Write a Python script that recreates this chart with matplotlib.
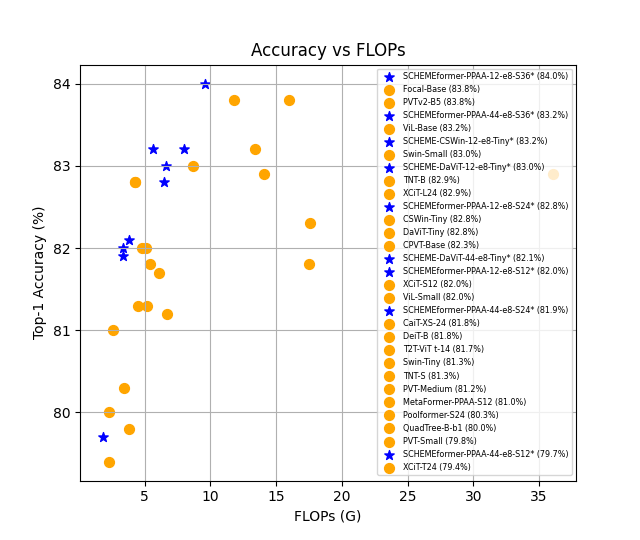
import matplotlib
matplotlib.use("Agg")
import matplotlib.pyplot as plt

# models sorted by accuracy, as in the legend
names = ["SCHEMEformer-PPAA-12-e8-S36*", "Focal-Base", "PVTv2-B5", "SCHEMEformer-PPAA-44-e8-S36*",
         "ViL-Base", "SCHEME-CSWin-12-e8-Tiny*", "Swin-Small", "SCHEME-DaViT-12-e8-Tiny*",
         "TNT-B", "XCiT-L24", "SCHEMEformer-PPAA-12-e8-S24*", "CSWin-Tiny", "DaViT-Tiny",
         "CPVT-Base", "SCHEME-DaViT-44-e8-Tiny*", "SCHEMEformer-PPAA-12-e8-S12*", "XCiT-S12",
         "ViL-Small", "SCHEMEformer-PPAA-44-e8-S24*", "CaiT-XS-24", "DeiT-B", "T2T-ViT t-14",
         "Swin-Tiny", "TNT-S", "PVT-Medium", "MetaFormer-PPAA-S12", "Poolformer-S24",
         "QuadTree-B-b1", "PVT-Small", "SCHEMEformer-PPAA-44-e8-S12*", "XCiT-T24"]
flops = [9.6, 11.8, 16.0, 8.0,
         13.4, 5.6, 8.7, 6.6,
         14.1, 36.1, 6.5, 4.3, 4.3,
         17.6, 3.8, 3.35, 4.8,
         5.1, 3.35, 5.4, 17.5, 6.1,
         4.5, 5.2, 6.7, 2.6, 3.4,
         2.3, 3.8, 1.8, 2.3]
acc = [84.0, 83.8, 83.8, 83.2,
       83.2, 83.2, 83.0, 83.0,
       82.9, 82.9, 82.8, 82.8, 82.8,
       82.3, 82.1, 82.0, 82.0,
       82.0, 81.9, 81.8, 81.8, 81.7,
       81.3, 81.3, 81.2, 81.0, 80.3,
       80.0, 79.8, 79.7, 79.4]

plt.figure(figsize=(6.4, 5.4), dpi=100)
for n, f, a in zip(names, flops, acc):
    if n.endswith("*"):
        plt.scatter(f, a, marker="*", s=50, color="blue", label=f"{n} ({a:.1f}%)")
    else:
        plt.scatter(f, a, marker="o", s=50, color="orange", label=f"{n} ({a:.1f}%)")

plt.title("Accuracy vs FLOPs")
plt.xlabel("FLOPs (G)")
plt.ylabel("Top-1 Accuracy (%)")
plt.grid(True)
plt.legend(fontsize="xx-small", loc="upper right")
plt.savefig("out.png")
